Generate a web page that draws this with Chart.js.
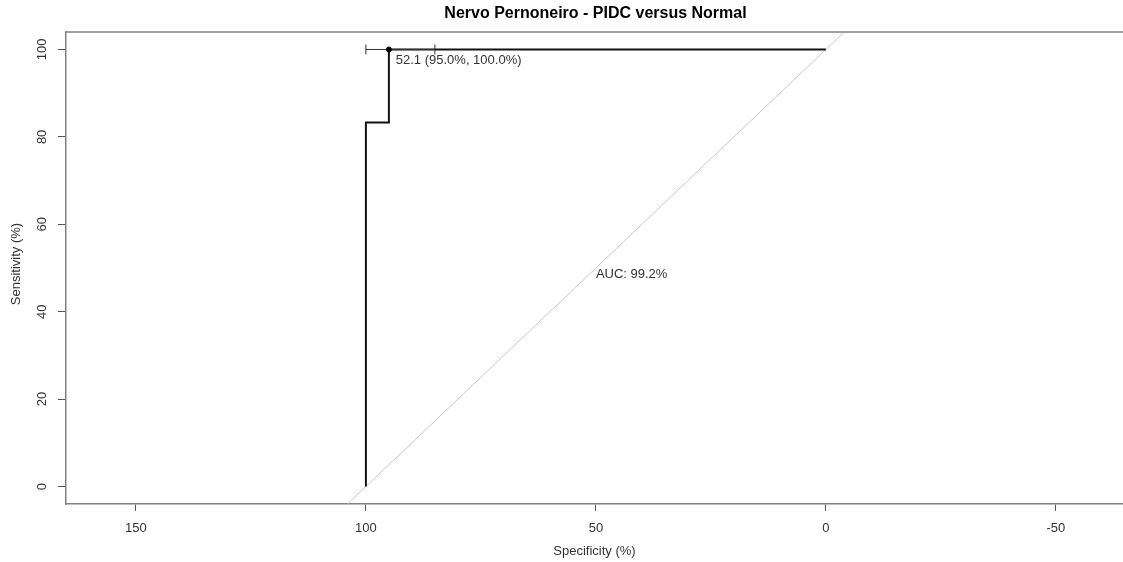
<!DOCTYPE html>
<html>
<head>
<meta charset="utf-8">
<script src="https://cdn.jsdelivr.net/npm/chart.js@4.4.0/dist/chart.umd.min.js"></script>
<style>
  html, body { margin: 0; padding: 0; background: #fff; }
  #wrap { width: 1123px; height: 562px; }
</style>
</head>
<body>
<div id="wrap"><canvas id="roc" width="1123" height="562"></canvas></div>
<script>
// ROC curve (specificity %, sensitivity %)
const rocSpec = [100, 100, 95, 95, 0];
const rocSens = [0, 83.3, 83.3, 100, 100];

// chance diagonal, runs past the plot edges and gets clipped
const diagSpec = [200, -100];
const diagSens = [-100, 200];

// best threshold and its specificity CI
const bestSpec = [95];
const bestSens = [100];
const ciSpec = [100, 85];
const ciSens = [100, 100];

const xTicks = [150, 100, 50, 0, -50];
const yTicks = [0, 20, 40, 60, 80, 100];

const TITLE = 'Nervo Pernoneiro - PIDC versus Normal';
const X_TITLE = 'Specificity (%)';
const Y_TITLE = 'Sensitivity (%)';
const THRESH_LABEL = '52.1 (95.0%, 100.0%)';
const AUC_LABEL = 'AUC: 99.2%';

const FONT = "'Liberation Sans', Arial, sans-serif";
const TEXT = '#333';
const AXIS = '#808080';

const pts = (xs, ys) => xs.map((x, i) => ({ x, y: ys[i] }));

// R-like extras: top frame line, rotated y labels, titles, annotations
const rPlot = {
    id: 'rPlot',
    afterDraw(chart) {
        const { ctx, chartArea: a, scales: { x, y } } = chart;
        ctx.save();
        ctx.strokeStyle = AXIS;
        ctx.lineWidth = 1.5;
        ctx.beginPath();
        ctx.moveTo(a.left, a.top);
        ctx.lineTo(a.right, a.top);
        ctx.stroke();

        ctx.fillStyle = TEXT;
        ctx.textAlign = 'center';
        ctx.textBaseline = 'middle';
        ctx.font = '13px ' + FONT;
        y.ticks.forEach(t => {
            ctx.save();
            ctx.translate(42, y.getPixelForValue(t.value));
            ctx.rotate(-Math.PI / 2);
            ctx.fillText(String(t.value), 0, 0);
            ctx.restore();
        });

        ctx.fillText(X_TITLE, (a.left + a.right) / 2, 551);
        ctx.save();
        ctx.translate(16, (a.top + a.bottom) / 2 - 4);
        ctx.rotate(-Math.PI / 2);
        ctx.fillText(Y_TITLE, 0, 0);
        ctx.restore();

        ctx.fillStyle = '#000';
        ctx.font = 'bold 16px ' + FONT;
        ctx.fillText(TITLE, (a.left + a.right) / 2 + 1, 14);

        ctx.fillStyle = TEXT;
        ctx.font = '13px ' + FONT;
        ctx.textAlign = 'left';
        ctx.fillText(THRESH_LABEL, x.getPixelForValue(93.5), y.getPixelForValue(97.5));
        ctx.fillText(AUC_LABEL, x.getPixelForValue(50), y.getPixelForValue(48.5));
        ctx.restore();
    }
};

new Chart(document.getElementById('roc'), {
    type: 'scatter',
    data: {
        datasets: [
            {
                label: 'ROC',
                data: pts(rocSpec, rocSens),
                showLine: true,
                borderColor: '#111',
                borderWidth: 2,
                pointRadius: 0,
                order: 1,
            },
            {
                label: 'CI',
                data: pts(ciSpec, ciSens),
                showLine: true,
                borderColor: '#333',
                borderWidth: 1,
                pointStyle: 'line',
                rotation: 90,
                pointRadius: 5,
                pointBorderColor: '#333',
                pointBorderWidth: 1,
                order: 0,
            },
            {
                label: 'best',
                data: pts(bestSpec, bestSens),
                pointRadius: 2.5,
                pointBackgroundColor: '#000',
                pointBorderColor: '#000',
                order: -1,
            },
            {
                label: 'chance',
                data: pts(diagSpec, diagSens),
                showLine: true,
                borderColor: '#c8c8c8',
                borderWidth: 1,
                pointRadius: 0,
                order: 2,
            },
        ],
    },
    options: {
        responsive: false,
        animation: false,
        events: [],
        layout: { autoPadding: false, padding: { top: 32, right: 0, left: 0, bottom: 0 } },
        plugins: { legend: { display: false }, tooltip: { enabled: false } },
        scales: {
            x: {
                type: 'linear',
                reverse: true,
                min: -64.6,
                max: 165.2,
                afterBuildTicks: s => { s.ticks = xTicks.map(v => ({ value: v })); },
                afterFit: s => { s.height = 58; s.paddingLeft = 0; s.paddingRight = 0; },
                border: { color: AXIS, width: 1.5 },
                grid: { drawOnChartArea: false, drawTicks: true, tickLength: 7, color: '#555' },
                ticks: { color: TEXT, font: { family: FONT, size: 13 }, padding: 10, maxRotation: 0 },
            },
            y: {
                type: 'linear',
                min: -4,
                max: 104,
                afterBuildTicks: s => { s.ticks = yTicks.map(v => ({ value: v })); },
                afterFit: s => { s.width = 66; s.paddingTop = 0; s.paddingBottom = 0; },
                border: { color: AXIS, width: 1.5 },
                grid: { drawOnChartArea: false, drawTicks: true, tickLength: 8, color: '#555' },
                ticks: { color: 'rgba(0,0,0,0)', font: { family: FONT, size: 13 } },
            },
        },
    },
    plugins: [rPlot],
});
</script>
</body>
</html>
